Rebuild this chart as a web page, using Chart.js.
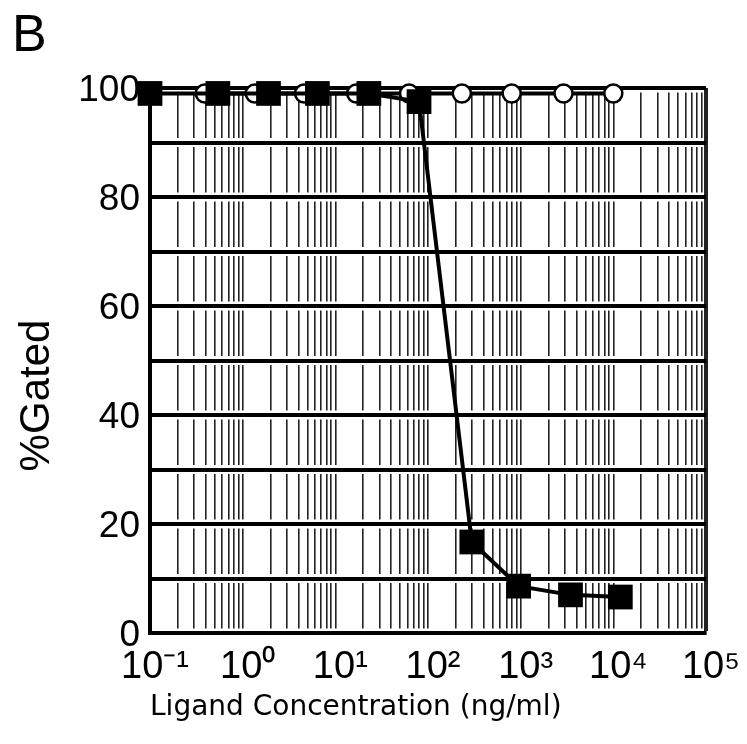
<!DOCTYPE html>
<html>
<head>
<meta charset="utf-8">
<script src="https://cdn.jsdelivr.net/npm/chart.js@4/dist/chart.umd.min.js"></script>
<style>
  html, body { margin: 0; padding: 0; background: #fff; }
  #wrap { width: 747px; height: 744px; }
</style>
</head>
<body>
<div id="wrap"><canvas id="gated" width="747" height="744"></canvas></div>
<script>
'use strict';

/* %Gated vs ligand concentration, log x axis, boxed grid look. */

const panelLetter = 'B';
const xTitle = 'Ligand Concentration (ng/ml)';
const yTitle = '%Gated';

// decade tick labels, 10^-1 .. 10^5
const decadeExps = [-1, 0, 1, 2, 3, 4, 5];
const decadeLabels = ['10⁻¹', '10⁰', '10¹', '10²', '10³', '10⁴', '10⁵'];
const yTickLabels = ['0', '20', '40', '60', '80', '100'];

// filled squares
const squareConc = [0.1, 0.54, 1.9, 6.4, 23, 80, 297, 951, 3450, 11900];
const squareGated = [99, 99, 99, 99, 99, 97.5, 16.7, 8.6, 7.0, 6.6];

// open circles
const circleConc = [0.39, 1.35, 4.6, 16.8, 62.5, 232, 800, 2900, 10000];
const circleGated = [99, 99, 99, 99, 99, 99, 99, 99, 99];

// minor grid at 1..9 x 10^n, plus the last decade
const gridValues = [];
for (let e = -1; e <= 4; e++) {
  for (let k = 1; k <= 9; k++) gridValues.push(Number((k * Math.pow(10, e)).toPrecision(3)));
}
gridValues.push(1e5);

const FONT = "'Liberation Sans', Arial, sans-serif";

function pairs(xs, ys) {
  return xs.map((x, i) => ({ x, y: ys[i] }));
}

const ctx = document.getElementById('gated').getContext('2d');

new Chart(ctx, {
  type: 'line',
  data: {
    datasets: [
      {
        label: 'squares',
        data: pairs(squareConc, squareGated),
        borderColor: '#000',
        borderWidth: 4,
        backgroundColor: '#000',
        pointStyle: 'rect',
        pointRadius: 17.5,
        pointBorderWidth: 0,
        tension: 0,
        clip: false,
      },
      {
        label: 'circles',
        data: pairs(circleConc, circleGated),
        borderColor: '#000',
        borderWidth: 4,
        backgroundColor: '#fff',
        pointStyle: 'circle',
        pointRadius: 9,
        pointBorderWidth: 2.5,
        pointBorderColor: '#000',
        tension: 0,
        clip: false,
      },
    ],
  },
  options: {
    responsive: false,
    animation: false,
    layout: { padding: { left: 12, right: 39, top: 0, bottom: 0 } },
    plugins: {
      legend: { display: false },
      tooltip: { enabled: false },
      title: {
        display: true,
        text: panelLetter,
        align: 'start',
        color: '#000',
        font: { family: FONT, size: 52, weight: 'normal', lineHeight: 1 },
        padding: { top: 11, bottom: 25 },
      },
    },
    scales: {
      x: {
        type: 'logarithmic',
        min: 0.1,
        max: 1e5,
        afterBuildTicks: (scale) => {
          scale.ticks = gridValues.map((v) => ({ value: v }));
        },
        afterFit: (scale) => { scale.height = 111; },
        grid: {
          color: '#222',
          lineWidth: (c) => (c.tick && c.tick.value === 1e5 ? 4 : 1.6),
          drawTicks: false,
        },
        border: {
          color: '#000',
          width: 4,
          dash: (c) => {
            if (c.tick && c.tick.value === 1e5) return [];
            const h = c.chart.chartArea ? c.chart.chartArea.height / 10 : 54.5;
            return [h - 9, 9];
          },
          dashOffset: (c) => {
            const h = c.chart.chartArea ? c.chart.chartArea.height / 10 : 54.5;
            return h - 4.5;
          },
        },
        ticks: {
          autoSkip: false,
          maxRotation: 0,
          padding: 12,
          labelOffset: 5,
          color: '#000',
          font: { family: FONT, size: 38 },
          callback: (v) => {
            const e = Math.log10(v);
            const i = decadeExps.indexOf(Math.round(e));
            return Math.abs(e - Math.round(e)) < 1e-6 && i >= 0 ? decadeLabels[i] : '';
          },
        },
        title: {
          display: true,
          text: xTitle,
          align: 'start',
          color: '#000',
          font: { family: "'DejaVu Sans', sans-serif", size: 28 },
          padding: { top: 0, bottom: 19 },
        },
      },
      y: {
        min: 0,
        max: 100,
        afterFit: (scale) => { scale.width = 138; },
        grid: { color: '#000', lineWidth: 4, drawTicks: false },
        border: { color: '#000', width: 4 },
        ticks: {
          stepSize: 10,
          autoSkip: false,
          padding: 10,
          labelOffset: 3,
          color: '#000',
          font: { family: FONT, size: 37 },
          callback: (v) => (v % 20 === 0 ? yTickLabels[v / 20] : ''),
        },
        title: {
          display: true,
          text: yTitle + '      ',
          color: '#000',
          font: { family: FONT, size: 42 },
          padding: { top: 0, bottom: 0 },
        },
      },
    },
  },
});
</script>
</body>
</html>
